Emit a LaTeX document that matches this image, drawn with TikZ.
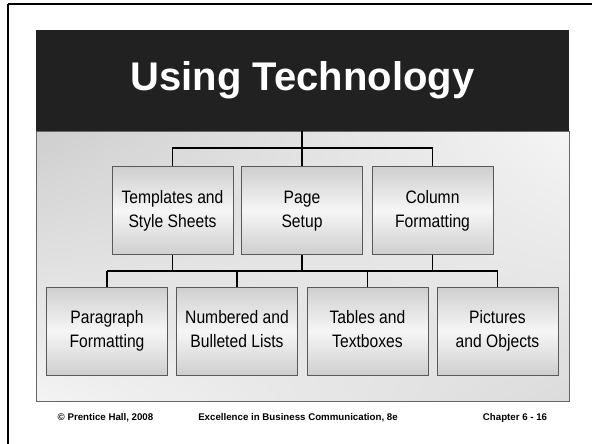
\documentclass[tikz,border=0pt]{standalone}
\usepackage{fontspec}
\setmainfont{Liberation Sans}
\newfontfamily\narrowfont{Liberation Sans}[FakeStretch=0.87]
\usepackage{tikz}
\usetikzlibrary{shadings}

% two lines of box text on struts, so every box sits alike
\newcommand{\twolines}[2]{\strut#1\\\strut#2}

\tikzset{
    itembox/.style={draw=black!65, line width=0.9pt, top color=gray!38, bottom color=gray!38,
        middle color=gray!7, minimum width=121pt, minimum height=88pt, inner sep=0pt,
        align=center, font=\narrowfont\fontsize{18}{24}\selectfont},
    link/.style={line width=1.2pt, black},
    foot/.style={font=\bfseries\fontsize{9.7}{11}\selectfont, inner sep=0pt}
}

\begin{document}
\begin{tikzpicture}[x=1pt,y=-1pt]
        \useasboundingbox (0,0) rectangle (592,444);

        % draw the slide frame
        \draw[line width=2pt] (8,4.3) -- (592,4.3);
        \draw[line width=2pt] (8,4.3) -- (8,444);

        % draw the panel behind the chart
        \shade[upper left=gray!38, upper right=gray!8, lower left=gray!9, lower right=gray!28]
            (36,131) rectangle (569,401);
        \draw[black!60, line width=0.8pt] (36,131) rectangle (569,401);

        % draw the title bar
        \node[fill=black!87, minimum width=533pt, minimum height=101pt, inner sep=0pt,
              text=white, font=\bfseries\fontsize{40}{44}\selectfont]
            (title) at (302.5,80.5) {Using Technology};

        % top row of boxes
        \node[itembox] (tmpl) at (172.5,210.5) {\twolines{Templates and}{Style Sheets}};
        \node[itembox] (page) at (302,210.5) {\twolines{Page}{Setup}};
        \node[itembox] (col)  at (432.5,210.5) {\twolines{Column}{Formatting}};

        % bottom row of boxes
        \node[itembox] (para) at (107,331) {\twolines{Paragraph}{Formatting}};
        \node[itembox] (num)  at (237,331) {\twolines{Numbered and}{Bulleted Lists}};
        \node[itembox] (tab)  at (367.5,331) {\twolines{Tables and}{Textboxes}};
        \node[itembox] (pic)  at (497.5,331) {\twolines{Pictures}{and Objects}};

        % connectors from the title to the top row
        \coordinate (bustop) at (302,148);
        \coordinate (buslow) at (302,271);
        \draw[line width=2pt] (title.south -| page.north) -- (page.north);
        \draw[link] (tmpl.north) |- (bustop) -| (col.north);

        % connectors from the top row to the bottom row
        \foreach \n in {tmpl,page,col} {
            \draw[link] (\n.south) -- (\n.south |- buslow);
        }
        \foreach \n in {para,num,tab,pic} {
            \draw[link] (\n.north) -- (\n.north |- buslow);
        }
        \draw[link] (para.north |- buslow) -- (pic.north |- buslow);

        % footer texts
        \node[foot] (copy)  at (105.5,418) {© Prentice Hall, 2008};
        \node[foot] (book)  at (298,418) {Excellence in Business Communication, 8e};
        \node[foot] (chap)  at (515,418) {Chapter 6 - 16};
    \end{tikzpicture}
\end{document}
